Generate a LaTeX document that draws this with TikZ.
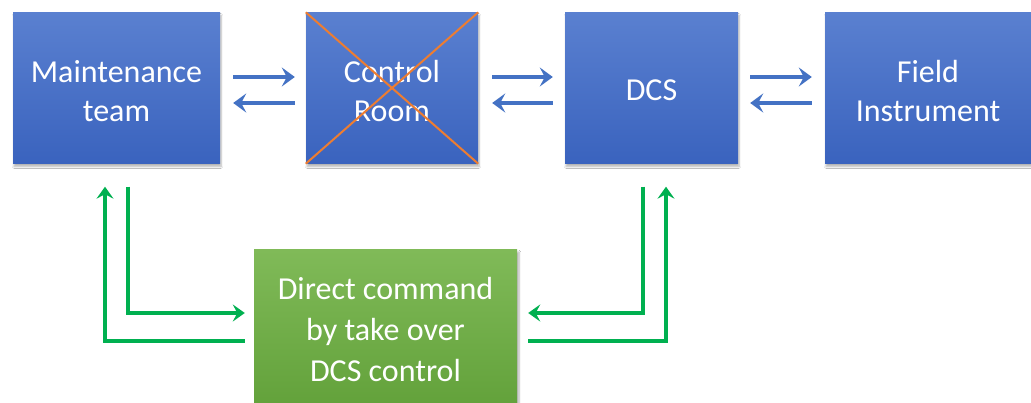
\documentclass[tikz,border=0pt]{standalone}
\usepackage{fontspec}
\setmainfont{Carlito}
\usetikzlibrary{arrows.meta,calc,shadows.blur}
\definecolor{blueTop}{HTML}{5A80D0}
\definecolor{blueBot}{HTML}{3A63BE}
\definecolor{greenTop}{HTML}{80BA58}
\definecolor{greenBot}{HTML}{62A13A}
\definecolor{linkBlue}{HTML}{4472C4}
\definecolor{linkGreen}{HTML}{00B050}
\definecolor{crossOrange}{HTML}{ED7D31}
\tikzset{
  bluebox/.style={rectangle, minimum height=151pt,
    top color=blueTop, bottom color=blueBot, draw=none, inner sep=0pt,
    blur shadow={shadow xshift=1pt, shadow yshift=-3pt, shadow blur steps=6, shadow opacity=30}},
  boxtext/.style={text=white, align=center, inner sep=0pt,
    font=\fontsize{32}{39}\selectfont},
  greenbox/.style={rectangle, minimum width=263pt, minimum height=160pt,
    top color=greenTop, bottom color=greenBot, draw=none, text=white,
    align=center, inner sep=0pt,
    blur shadow={shadow xshift=2pt, shadow yshift=-2pt, shadow blur steps=6, shadow opacity=30},
    font=\fontsize{32}{41}\selectfont},
  barrow/.style={draw=linkBlue, line width=3.6pt,
    -{Stealth[length=13pt,width=19pt,inset=5pt]}},
  garrow/.style={draw=linkGreen, line width=3.6pt,
    -{Stealth[length=12pt,width=17pt,inset=4.5pt]}},
  cross/.style={draw=crossOrange, line width=2pt}
}
\begin{document}
\begin{tikzpicture}[x=1pt,y=-1pt]
  \useasboundingbox (0,0) rectangle (1031,403);
  \clip (0,0) rectangle (1031,403);
  \fill[white] (0,0) rectangle (1031,403);

  % top row of blocks
  \node[bluebox, minimum width=207pt] (mt) at (116.5,88) {};
  \node[bluebox, minimum width=172pt] (cr) at (392,88) {};
  \node[bluebox, minimum width=173pt] (dcs) at (651.5,88) {};
  \node[bluebox, minimum width=206pt] (fi) at (928,88) {};
  \node[boxtext] (mtlabel) at ($(mt)+(0,3)$) {Maintenance\\team};
  \node[boxtext] (crlabel) at ($(cr)+(0,3)$) {Control\\Room};
  \node[boxtext] (dcslabel) at ($(dcs)+(0,2)$) {DCS};
  \node[boxtext] (filabel) at ($(fi)+(0,3)$) {Field\\Instrument};

  % control room struck out
  \draw[cross] (cr.north west) -- (cr.south east);
  \draw[cross] (cr.north east) -- (cr.south west);

  % override block
  \node[greenbox] (dc) at (385.5,330) {Direct command\\by take over\\DCS control};

  % two-way links along the top row
  \draw[barrow] ($(mt.east)+(13,-11)$) -- ($(cr.west)+(-11,-11)$);
  \draw[barrow] ($(cr.west)+(-11,15)$) -- ($(mt.east)+(13,15)$);
  \draw[barrow] ($(cr.east)+(14,-11)$) -- ($(dcs.west)+(-12,-11)$);
  \draw[barrow] ($(dcs.west)+(-12,15)$) -- ($(cr.east)+(14,15)$);
  \draw[barrow] ($(dcs.east)+(12,-11)$) -- ($(fi.west)+(-13,-11)$);
  \draw[barrow] ($(fi.west)+(-13,15)$) -- ($(dcs.east)+(12,15)$);

  % maintenance team <-> override block
  \coordinate (mtdown) at ($(mt.south)+(11.5,23)$);
  \coordinate (mtup) at ($(mt.south)+(-11.5,23)$);
  \draw[garrow] (mtdown) |- ($(dc.west)+(-9,-17)$);
  \draw[garrow] ($(dc.west)+(-9,11)$) -| (mtup);

  % DCS <-> override block
  \coordinate (dcsdown) at ($(dcs.south)+(-8.5,23)$);
  \coordinate (dcsup) at ($(dcs.south)+(14.5,23)$);
  \draw[garrow] (dcsdown) |- ($(dc.east)+(11,-17)$);
  \draw[garrow] ($(dc.east)+(11,11)$) -| (dcsup);
\end{tikzpicture}
\end{document}
